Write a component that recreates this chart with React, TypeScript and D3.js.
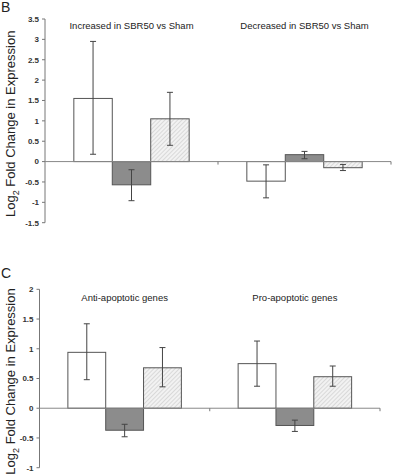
import React from "react";
import * as d3 from "d3";

const seriesKeys = ["s1", "s2", "s3"];
const panelBCats = ["Increased in SBR50 vs Sham", "Decreased in SBR50 vs Sham"];
const panelBVals = [
  [1.55, -0.57, 1.05],
  [-0.48, 0.17, -0.15],
];
const panelBLow = [
  [0.18, -0.96, 0.4],
  [-0.89, 0.07, -0.22],
];
const panelBHigh = [
  [2.95, -0.2, 1.7],
  [-0.08, 0.25, -0.07],
];
const panelBTicks = [3.5, 3, 2.5, 2, 1.5, 1, 0.5, 0, -0.5, -1, -1.5];

const panelCCats = ["Anti-apoptotic genes", "Pro-apoptotic genes"];
const panelCVals = [
  [0.94, -0.37, 0.68],
  [0.75, -0.29, 0.53],
];
const panelCLow = [
  [0.48, -0.48, 0.36],
  [0.37, -0.39, 0.37],
];
const panelCHigh = [
  [1.42, -0.27, 1.02],
  [1.13, -0.2, 0.71],
];
const panelCTicks = [2, 1.5, 1, 0.5, 0, -0.5, -1];

const fills = ["#ffffff", "#8c8c8c", "url(#hatch)"];
const FONT = "Arial, Liberation Sans, sans-serif";

type PanelProps = {
  label: string;
  cats: string[];
  vals: number[][];
  low: number[][];
  high: number[][];
  ticks: number[];
  x0: number;
  x1: number;
  yTop: number;
  yBot: number;
  titleY: number;
  labelPos: [number, number];
};

function Panel(p: PanelProps) {
  const dom = d3.extent(p.ticks) as [number, number];
  const y = d3.scaleLinear().domain(dom).range([p.yBot, p.yTop]);
  const x = d3.scaleBand().domain(p.cats).range([p.x0, p.x1]);
  const inner = d3.scaleBand().domain(seriesKeys).range([0, x.bandwidth()]).paddingOuter(0.75).paddingInner(0);
  const zero = y(0);
  return (
    <g>
      <text x={p.labelPos[0]} y={p.labelPos[1]} fontSize={14} fontFamily={FONT} fill="#222">{p.label}</text>
      <text
        transform={`translate(15,${(p.yTop + p.yBot) / 2 + 3}) rotate(-90)`}
        textAnchor="middle"
        fontSize={13}
        fontFamily={FONT}
        fill="#222"
      >
        Log<tspan fontSize={9} dy={3.5}>2</tspan><tspan dy={-3.5}> Fold Change in Expression</tspan>
      </text>
      {/* y axis */}
      <line x1={p.x0} x2={p.x0} y1={y(dom[1])} y2={y(dom[0])} stroke="#777" strokeWidth={1} />
      {p.ticks.map((t) => (
        <g key={t}>
          <line x1={p.x0 - 3} x2={p.x0} y1={y(t)} y2={y(t)} stroke="#777" />
          <text x={p.x0 - 6} y={y(t)} dy="0.35em" textAnchor="end" fontSize={8} fontWeight="bold" fontFamily={FONT} fill="#333">
            {String(t)}
          </text>
        </g>
      ))}
      {/* bars */}
      {p.cats.map((c, ci) => (
        <g key={c}>
          <text x={x(c)! + x.bandwidth() / 2} y={p.titleY} textAnchor="middle" fontSize={9.5} fontFamily={FONT} fill="#222">
            {c}
          </text>
          {seriesKeys.map((s, si) => {
            const v = p.vals[ci][si];
            const bx = x(c)! + inner(s)!;
            const bw = inner.bandwidth();
            const top = Math.min(y(v), zero);
            const h = Math.abs(y(v) - zero);
            const cx = bx + bw / 2;
            return (
              <g key={s}>
                <rect x={bx} y={top} width={bw} height={h} fill={fills[si]} stroke="#555" strokeWidth={1} />
                <line x1={cx} x2={cx} y1={y(p.low[ci][si])} y2={y(p.high[ci][si])} stroke="#444" strokeWidth={1} />
                <line x1={cx - 3} x2={cx + 3} y1={y(p.low[ci][si])} y2={y(p.low[ci][si])} stroke="#444" />
                <line x1={cx - 3} x2={cx + 3} y1={y(p.high[ci][si])} y2={y(p.high[ci][si])} stroke="#444" />
              </g>
            );
          })}
        </g>
      ))}
      {/* x axis at zero */}
      <line x1={p.x0} x2={p.x1} y1={zero} y2={zero} stroke="#888" strokeWidth={1} />
      {p.cats.map((c) => (
        <line key={c} x1={x(c)! + x.bandwidth()} x2={x(c)! + x.bandwidth()} y1={zero} y2={zero + 3} stroke="#777" />
      ))}
    </g>
  );
}

export default function App() {
  return (
    <svg width={402} height={476} style={{ position: "absolute", left: 0, top: 0, background: "#fff" }}>
      <defs>
        <pattern id="hatch" patternUnits="userSpaceOnUse" width={3} height={3} patternTransform="rotate(45)">
          <rect width={3} height={3} fill="#f2f2f2" />
          <line x1={0} y1={0} x2={0} y2={3} stroke="#c4c4c4" strokeWidth={1.1} />
        </pattern>
      </defs>
      <rect width={402} height={476} fill="#fff" />
      <Panel
        label="B"
        cats={panelBCats}
        vals={panelBVals}
        low={panelBLow}
        high={panelBHigh}
        ticks={panelBTicks}
        x0={45}
        x1={391}
        yTop={19}
        yBot={222.7}
        titleY={29}
        labelPos={[1, 12]}
      />
      <Panel
        label="C"
        cats={panelCCats}
        vals={panelCVals}
        low={panelCLow}
        high={panelCHigh}
        ticks={panelCTicks}
        x0={39.5}
        x1={380}
        yTop={289.3}
        yBot={467.7}
        titleY={301}
        labelPos={[1, 278]}
      />
    </svg>
  );
}
